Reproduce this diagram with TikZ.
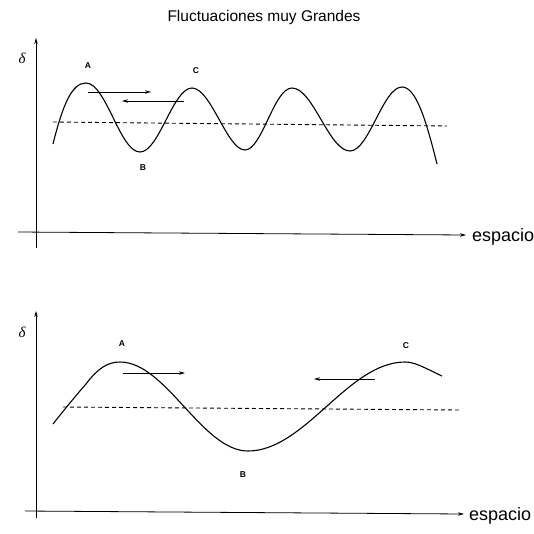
\documentclass[tikz,border=0pt]{standalone}
\usepackage{fontspec}
\setmainfont{Liberation Sans}
\newfontfamily\deltafont{Liberation Serif}
\usetikzlibrary{arrows.meta}
\tikzset{
  axis/.style={line width=0.8pt, -{Stealth[length=6pt,width=3.5pt]}},
  wave/.style={line width=1.1pt},
  base/.style={line width=0.9pt, dash pattern=on 4pt off 3pt},
  motion/.style={line width=0.9pt, -{Stealth[length=6pt,width=3.5pt]}},
  pt/.style={font=\fontsize{8.5}{10}\selectfont\bfseries, inner sep=0pt},
  axlabel/.style={font=\fontsize{18}{20}\selectfont, inner sep=0pt, anchor=base west},
  dlabel/.style={font=\deltafont\itshape\fontsize{15}{16}\selectfont, inner sep=0pt}
}
\begin{document}
\begin{tikzpicture}[x=1pt,y=-1pt]
\useasboundingbox[fill=white] (0,0) rectangle (534,533);
\node[font=\fontsize{15.5}{17}\selectfont, inner sep=0pt] (title) at (264,17) {Fluctuaciones muy Grandes};

% ---------- top panel ----------
\coordinate (y1b) at (36,248);
\coordinate (y1t) at (36,38);
\coordinate (x1l) at (18,232);
\coordinate (x1r) at (466,235);
\draw[axis] (y1b) -- (y1t);
\draw[axis] (x1l) -- (x1r);
\node[axlabel] (esp1) at (472,241) {espacio};
\node[dlabel] (d1) at (22,58) {δ};
\coordinate (b1l) at (53,122);
\coordinate (b1r) at (447,126);
\draw[base] (b1l) -- (b1r);
\draw[wave] (53,144) .. controls (63,104) and (72,83) .. (86,83)
  .. controls (106,83) and (120,152) .. (140,152)
  .. controls (159,152) and (173,88) .. (192,88)
  .. controls (211,88) and (227,150) .. (245,150)
  .. controls (262,150) and (274,88) .. (292,88)
  .. controls (313,88) and (329,151) .. (350,151)
  .. controls (369,151) and (383,87) .. (402,87)
  .. controls (416,87) and (426,120) .. (437,164);
\node[pt] (A1) at (88,66) {A};
\node[pt] (B1) at (143,168) {B};
\node[pt] (C1) at (196,71) {C};
\coordinate (m1a) at (88,92);
\coordinate (m1b) at (151,92);
\coordinate (m1c) at (184,101);
\coordinate (m1d) at (122,101);
\draw[motion] (m1a) -- (m1b);
\draw[motion] (m1c) -- (m1d);

% ---------- bottom panel ----------
\coordinate (y2b) at (36,518);
\coordinate (y2t) at (36,311);
\coordinate (x2l) at (25,511);
\coordinate (x2r) at (464,514);
\draw[axis] (y2b) -- (y2t);
\draw[axis] (x2l) -- (x2r);
\node[axlabel] (esp2) at (469,520) {espacio};
\node[dlabel] (d2) at (22,332) {δ};
\coordinate (b2l) at (63,407);
\coordinate (b2r) at (460,410);
\draw[base] (b2l) -- (b2r);
\draw[wave] (53,424) .. controls (64,410) and (78,393) .. (86,384)
  .. controls (98,368) and (108,362) .. (120,362)
  .. controls (166,362) and (202,451) .. (248,451)
  .. controls (305,451) and (348,362) .. (405,362)
  .. controls (415,362) and (425,368) .. (442,376);
\node[pt] (A2) at (122,344) {A};
\node[pt] (B2) at (243,475) {B};
\node[pt] (C2) at (406,346) {C};
\coordinate (m2a) at (123,373);
\coordinate (m2b) at (185,373);
\coordinate (m2c) at (375,379);
\coordinate (m2d) at (314,379);
\draw[motion] (m2a) -- (m2b);
\draw[motion] (m2c) -- (m2d);
\end{tikzpicture}
\end{document}
